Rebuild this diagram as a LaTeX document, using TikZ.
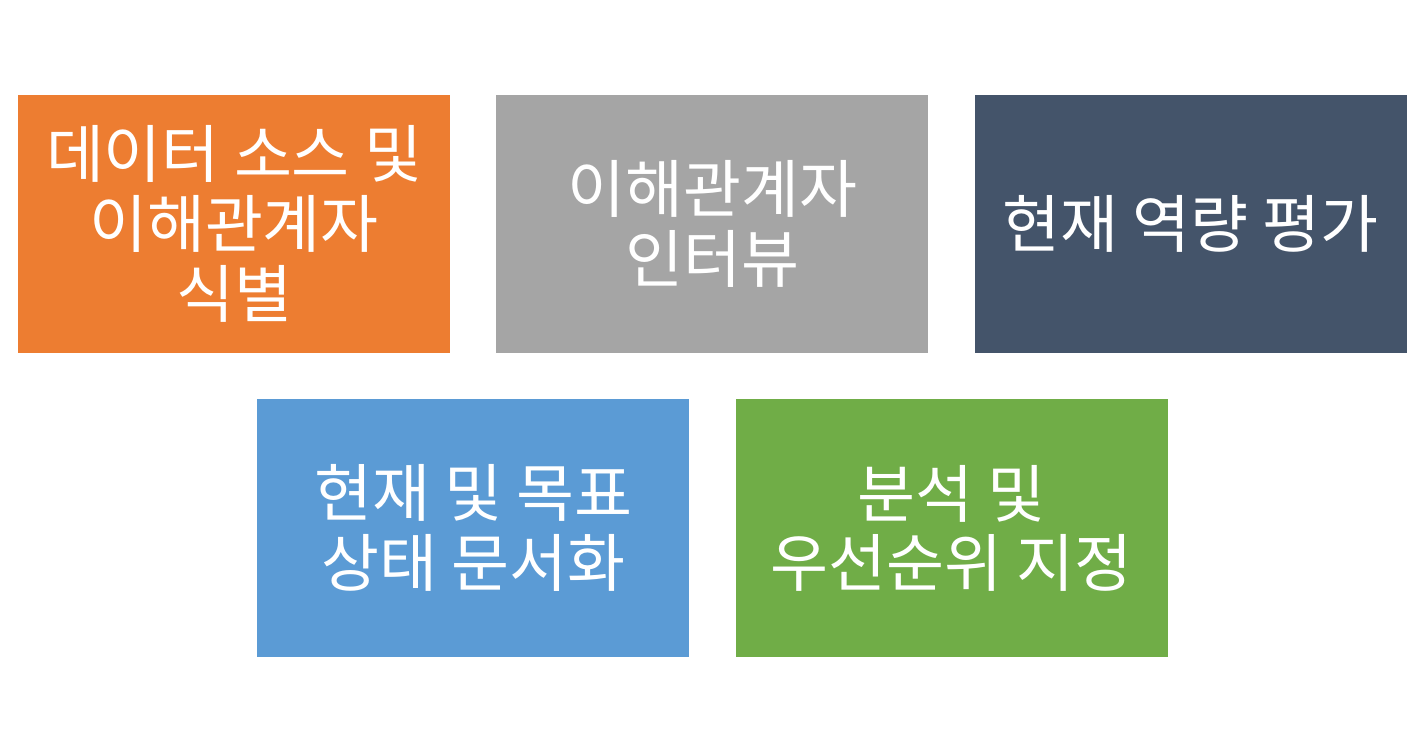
\documentclass[tikz,border=0pt]{standalone}
\usepackage{fontspec}
\newfontfamily\cjk{Noto Sans CJK KR}
\definecolor{TaskOrange}{RGB}{237, 125, 49}
\definecolor{TaskGray}{RGB}{165, 165, 165}
\definecolor{TaskSlate}{RGB}{68, 84, 106}
\definecolor{TaskBlue}{RGB}{91, 155, 213}
\definecolor{TaskGreen}{RGB}{112, 173, 71}
\usetikzlibrary{positioning, calc}

\begin{document}
\begin{tikzpicture}[
        node distance=46pt,
        task/.style={rectangle, minimum width=432pt, minimum height=258pt, inner sep=0pt,
            align=center, text=white, font=\cjk\fontsize{63}{70}\selectfont}
    ]
        \useasboundingbox (0,0) rectangle (1408pt,-752pt);
        \node[task, fill=TaskOrange] (ident) at (234pt,-224pt) {데이터 소스 및\\이해관계자\\식별};
        \node[task, fill=TaskGray, right=of ident] (interview) {이해관계자\\인터뷰};
        \node[task, fill=TaskSlate, right=of interview] (assess) {현재 역량 평가};
        \node[task, fill=TaskBlue, below=of $(ident.south east)!0.5!(interview.south west)$] (document) {현재 및 목표\\상태 문서화};
        \node[task, fill=TaskGreen, right=of document] (priority) {분석 및\\우선순위 지정};
    \end{tikzpicture}
\end{document}
